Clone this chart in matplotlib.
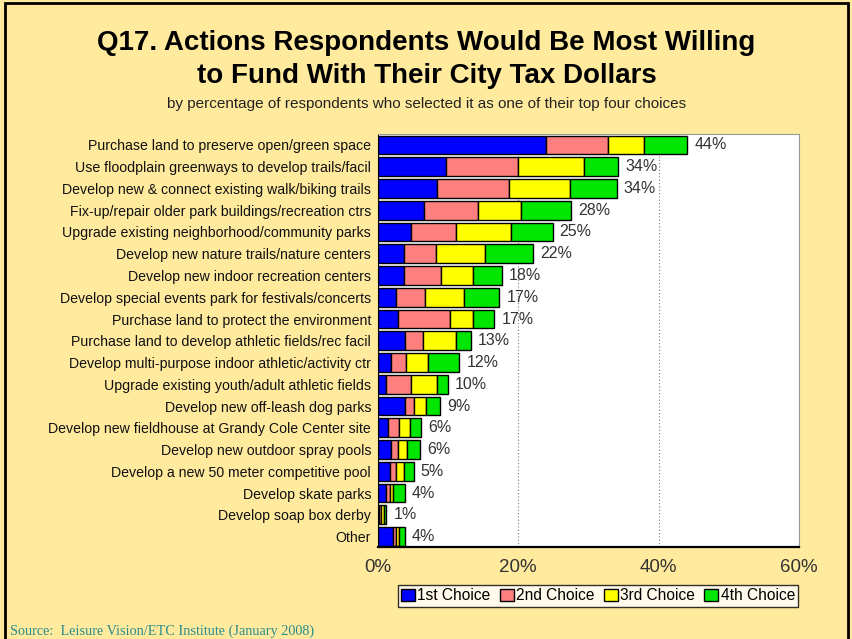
import matplotlib.pyplot as plt
from matplotlib.patches import Rectangle

plt.rcParams['font.family'] = ['Liberation Sans', 'DejaVu Sans']

# survey items, top to bottom
items = [
    "Purchase land to preserve open/green space",
    "Use floodplain greenways to develop trails/facil",
    "Develop new & connect existing walk/biking trails",
    "Fix-up/repair older park buildings/recreation ctrs",
    "Upgrade existing neighborhood/community parks",
    "Develop new nature trails/nature centers",
    "Develop new indoor recreation centers",
    "Develop special events park for festivals/concerts",
    "Purchase land to protect the environment",
    "Purchase land to develop athletic fields/rec facil",
    "Develop multi-purpose indoor athletic/activity ctr",
    "Upgrade existing youth/adult athletic fields",
    "Develop new off-leash dog parks",
    "Develop new fieldhouse at Grandy Cole Center site",
    "Develop new outdoor spray pools",
    "Develop a new 50 meter competitive pool",
    "Develop skate parks",
    "Develop soap box derby",
    "Other",
]
first = [23.9, 9.7, 8.4, 6.6, 4.7, 3.7, 3.7, 2.5, 2.9, 3.8, 1.9, 1.2, 3.8, 1.4, 1.8, 1.7, 1.2, 0.2, 2.2]
second = [8.9, 10.3, 10.3, 7.7, 6.4, 4.6, 5.3, 4.2, 7.4, 2.6, 2.1, 3.5, 1.3, 1.6, 1.0, 0.9, 0.5, 0.3, 0.3]
third = [5.1, 9.3, 8.6, 6.1, 7.9, 6.9, 4.5, 5.6, 3.2, 4.7, 3.2, 3.7, 1.7, 1.5, 1.4, 1.1, 0.5, 0.4, 0.5]
fourth = [6.2, 4.9, 6.7, 7.1, 5.9, 6.9, 4.2, 5.0, 3.1, 2.1, 4.4, 1.6, 2.1, 1.6, 1.8, 1.4, 1.6, 0.3, 0.8]
totals = [44, 34, 34, 28, 25, 22, 18, 17, 17, 13, 12, 10, 9, 6, 6, 5, 4, 1, 4]

series = [first, second, third, fourth]
names = ["1st Choice", "2nd Choice", "3rd Choice", "4th Choice"]
colors = ["#0000FF", "#FF7F7F", "#FFFF00", "#00E600"]

bg = "#FFEA9E"
fig = plt.figure(figsize=(8.53, 6.39), dpi=100, facecolor=bg)
ax = fig.add_axes([0.4431, 0.1432, 0.4936, 0.647])
ax.set_facecolor("white")

y = list(range(len(items)))
left = [0.0] * len(items)
for vals, nm, c in zip(series, names, colors):
    ax.barh(y, vals, left=left, height=0.86, color=c, edgecolor="black",
            linewidth=1.0, label=nm)
    left = [a + b for a, b in zip(left, vals)]

for i, t in enumerate(totals):
    ax.text(left[i] + 1.0, i, f"{t}%", va="center", ha="left",
            fontsize=11.5, color="#333333")

ax.set_ylim(len(items) - 0.5, -0.5)
ax.set_xlim(0, 60)
ax.set_xticks([0, 20, 40, 60])
ax.set_xticklabels(["0%", "20%", "40%", "60%"], fontsize=13.5, color="#333333")
ax.set_yticks(y)
ax.set_yticklabels(items, fontsize=10.2, color="#111111")
ax.tick_params(axis="both", length=0, pad=5)
ax.tick_params(axis="x", pad=8)
ax.xaxis.grid(True, linestyle=(0, (1, 2)), color="#777777", linewidth=0.8)
ax.set_axisbelow(True)
for s in ["top", "right"]:
    ax.spines[s].set_color("#999999")
    ax.spines[s].set_linewidth(0.8)
ax.spines["left"].set_color("black")
ax.spines["bottom"].set_color("black")
ax.spines["bottom"].set_linewidth(1.6)

leg = ax.legend(loc="center", bbox_to_anchor=(598 / 853, 1 - 596 / 639),
                bbox_transform=fig.transFigure, ncol=4, fontsize=11.2,
                frameon=True, fancybox=False, edgecolor="black",
                handlelength=0.9, handleheight=0.8, handletextpad=0.15,
                columnspacing=0.6, borderpad=0.2, borderaxespad=0)
leg.get_frame().set_linewidth(1.0)

fig.text(0.5, 1 - 43 / 639, "Q17. Actions Respondents Would Be Most Willing",
         ha="center", va="center", fontsize=20, fontweight="bold")
fig.text(0.5, 1 - 76 / 639, "to Fund With Their City Tax Dollars",
         ha="center", va="center", fontsize=20, fontweight="bold")
fig.text(0.5, 1 - 104 / 639,
         "by percentage of respondents who selected it as one of their top four choices",
         ha="center", va="center", fontsize=11, color="#222222")
fig.text(10 / 853, 1 - 631 / 639,
         "Source:  Leisure Vision/ETC Institute (January 2008)",
         ha="left", va="center", fontsize=10.3, color="#2A8C8C",
         family="Liberation Serif")

# outer frame
fig.patches.append(Rectangle((5 / 853, -0.05), 843 / 853, 1.05 - 3 / 639,
                             transform=fig.transFigure, fill=False,
                             edgecolor="black", linewidth=2))

fig.savefig("out.png", dpi=100, facecolor=bg)
